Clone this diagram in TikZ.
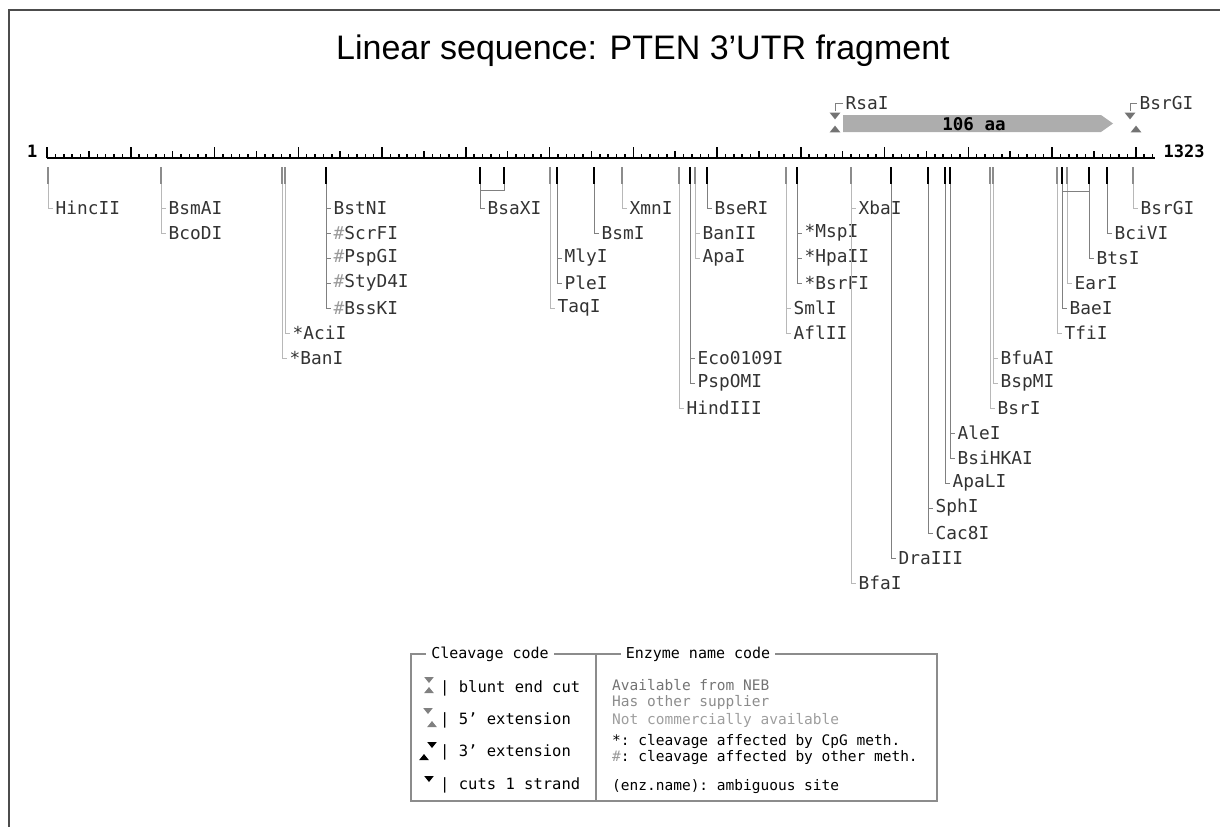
\documentclass[tikz,border=0pt]{standalone}
\usepackage{fontspec}
\setmainfont{Liberation Sans}
\setmonofont{DejaVu Sans Mono}
\usetikzlibrary{positioning}
\newcommand{\hsign}{\textcolor{black!40}{\#}}

\begin{document}
\begin{tikzpicture}[x=1pt, y=-1pt,
    lab/.style={anchor=west, inner sep=2.5pt, text=black!80, font=\ttfamily\fontsize{17.8}{18}\selectfont},
    cutd/.style={draw=black, line width=2.4pt},
    cutl/.style={draw=black!45, line width=2pt},
    lnkd/.style={draw=black!50, line width=1pt},
    lnkl/.style={draw=black!28, line width=1pt},
    legtxt/.style={anchor=west, inner sep=0pt, font=\ttfamily\fontsize{14.5}{15}\selectfont},
    legtitle/.style={fill=white, inner sep=5pt, font=\ttfamily\fontsize{15}{15}\selectfont},
    tridn/.pic={\fill (-4,-2.5) -- (4,-2.5) -- (0,2.5) -- cycle;},
    triup/.pic={\fill (-4,2.5) -- (4,2.5) -- (0,-2.5) -- cycle;}
  ]
  \useasboundingbox (0,0) rectangle (1220,827);
  \draw[black!70, line width=2pt] (1220,10) -- (9,10) -- (9,827);

  \node[anchor=base, font=\fontsize{34}{40}\selectfont] (title) at (643,59) {Linear sequence: PTEN 3’UTR fragment};

  % ruler
  \coordinate (r0) at (47,158);
  \coordinate (r1) at (1155,158);
  \draw[line width=2pt] (r0) -- (r1);
  \foreach \i in {0,...,132} \draw[line width=1.5pt] (47+\i*8.375,158) -- ++(0,-4);
  \foreach \i in {0,...,26} \draw[line width=1.5pt] (47+\i*41.875,158) -- ++(0,-7.5);
  \foreach \i in {0,...,13} \draw[line width=1.5pt] (47+\i*83.75,158) -- ++(0,-11.5);
  \node[anchor=east, font=\ttfamily\bfseries\fontsize{17}{18}\selectfont] (first) at (41,151) {1};
  \node[anchor=west, font=\ttfamily\bfseries\fontsize{17}{18}\selectfont] (last) at (1160,151) {1323};

  % ORF
  \fill[black!32] (843,115) -- (1101,115) -- (1113,123.5) -- (1101,132) -- (843,132) -- cycle;
  \node[font=\ttfamily\bfseries\fontsize{17.5}{18}\selectfont] (gene) at (974,124) {106 aa};
  \pic[black!55, scale=1.35] at (835,116) {tridn};
  \pic[black!55, scale=1.35] at (835,129) {triup};
  \pic[black!55, scale=1.35] at (1130,116) {tridn};
  \pic[black!55, scale=1.35] at (1136,129) {triup};
  \node[lab] (tRsaI) at (843,103) {RsaI};
  \coordinate (sRsaI) at (835,111);
  \draw[lnkd] (sRsaI) |- (tRsaI.west);
  \node[lab] (tBsrGI) at (1137,103) {BsrGI};
  \coordinate (sBsrGI) at (1130,111);
  \draw[lnkd] (sBsrGI) |- (tBsrGI.west);

  % cut sites
  \foreach \x/\s in {48/cutl, 161/cutl, 282/cutl, 285/cutl, 326/cutd, 480/cutd, 504/cutd,
      550/cutl, 557/cutd, 594/cutd, 622/cutl, 679/cutl, 690/cutd, 695/cutl, 707/cutd,
      786/cutl, 797/cutd, 851/cutl, 891/cutd, 928/cutd, 945/cutd, 950/cutd, 990/cutl,
      993/cutl, 1057/cutl, 1062/cutd, 1067/cutl, 1089/cutd, 1107/cutd, 1133/cutl}
    \draw[\s] (\x,167) -- (\x,184);

  \foreach \x/\r/\n/\t/\s in {
      48/1/HincII/HincII/lnkl,
      161/1/BsmAI/BsmAI/lnkl,
      161/2/BcoDI/BcoDI/lnkl,
      285/6/AciI/*AciI/lnkl,
      282/7/BanI/*BanI/lnkl,
      326/1/BstNI/BstNI/lnkd,
      326/2/ScrFI/{\hsign ScrFI}/lnkd,
      326/3/PspGI/{\hsign PspGI}/lnkd,
      326/4/StyD4I/{\hsign StyD4I}/lnkd,
      326/5/BssKI/{\hsign BssKI}/lnkd,
      480/1/BsaXI/BsaXI/lnkd,
      550/5/TaqI/TaqI/lnkl,
      557/3/MlyI/MlyI/lnkd,
      557/4/PleI/PleI/lnkd,
      594/2/BsmI/BsmI/lnkd,
      622/1/XmnI/XmnI/lnkl,
      679/9/HindIII/HindIII/lnkl,
      690/7/Eco0109I/Eco0109I/lnkd,
      690/8/PspOMI/PspOMI/lnkd,
      695/2/BanII/BanII/lnkl,
      695/3/ApaI/ApaI/lnkl,
      707/1/BseRI/BseRI/lnkd,
      786/5/SmlI/SmlI/lnkl,
      786/6/AflII/AflII/lnkl,
      797/2/MspI/*MspI/lnkd,
      797/3/HpaII/*HpaII/lnkd,
      797/4/BsrFI/*BsrFI/lnkd,
      851/1/XbaI/XbaI/lnkl,
      851/16/BfaI/BfaI/lnkl,
      891/15/DraIII/DraIII/lnkd,
      928/13/SphI/SphI/lnkd,
      928/14/Cac8I/Cac8I/lnkd,
      950/10/AleI/AleI/lnkd,
      950/11/BsiHKAI/BsiHKAI/lnkd,
      945/12/ApaLI/ApaLI/lnkd,
      993/7/BfuAI/BfuAI/lnkl,
      993/8/BspMI/BspMI/lnkl,
      990/9/BsrI/BsrI/lnkl,
      1057/6/TfiI/TfiI/lnkl,
      1062/5/BaeI/BaeI/lnkd,
      1067/4/EarI/EarI/lnkl,
      1089/3/BtsI/BtsI/lnkd,
      1107/2/BciVI/BciVI/lnkd,
      1133/1/BsrGI/BsrGI/lnkl}{
    \coordinate (m\n) at (\x,184);
    \node[lab] (\n) at (\x+5,183+25*\r) {\t};
    \draw[\s] (m\n) |- (\n.west);
  }
  % two-site enzymes
  \coordinate (m2BsaXI) at (504,184);
  \coordinate (jBsaXI) at (480,190);
  \draw[lnkd] (m2BsaXI) |- (jBsaXI);
  \coordinate (jBtsI) at (1062,191);
  \draw[lnkd] (mBtsI) |- (jBtsI);

  % legend
  \draw[black!45, line width=1.2pt] (411,654) rectangle (937,801);
  \draw[black!45, line width=1.2pt] (596,654) -- (596,801);
  \node[legtitle] (cleav) at (490,654) {Cleavage code};
  \node[legtitle] (enzcode) at (698,654) {Enzyme name code};

  \pic[black!50, scale=1.2] at (429,680) {tridn};
  \pic[black!50, scale=1.2] at (429,690) {triup};
  \node[legtxt, font=\ttfamily\fontsize{15.5}{16}\selectfont] (blunt) at (440,688) {| blunt end cut};
  \pic[black!50, scale=1.2] at (428,711) {tridn};
  \pic[black!50, scale=1.2] at (432,724) {triup};
  \node[legtxt, font=\ttfamily\fontsize{15.5}{16}\selectfont] (five) at (440,720) {| 5’ extension};
  \pic[black, scale=1.2] at (432,745) {tridn};
  \pic[black, scale=1.2] at (424,757) {triup};
  \node[legtxt, font=\ttfamily\fontsize{15.5}{16}\selectfont] (three) at (440,752) {| 3’ extension};
  \pic[black, scale=1.2] at (429,779) {tridn};
  \node[legtxt, font=\ttfamily\fontsize{15.5}{16}\selectfont] (strand) at (440,785) {| cuts 1 strand};

  \node[legtxt, text=black!55] (neb) at (612,685) {Available from NEB};
  \node[legtxt, text=black!45] (other) at (612,702) {Has other supplier};
  \node[legtxt, text=black!38] (notcom) at (612,720) {Not commercially available};
  \node[legtxt] (cpg) at (612,741) {*: cleavage affected by CpG meth.};
  \node[legtxt] (othmeth) at (612,757) {\hsign: cleavage affected by other meth.};
  \node[legtxt] (ambig) at (612,787) {(enz.name): ambiguous site};
\end{tikzpicture}
\end{document}
